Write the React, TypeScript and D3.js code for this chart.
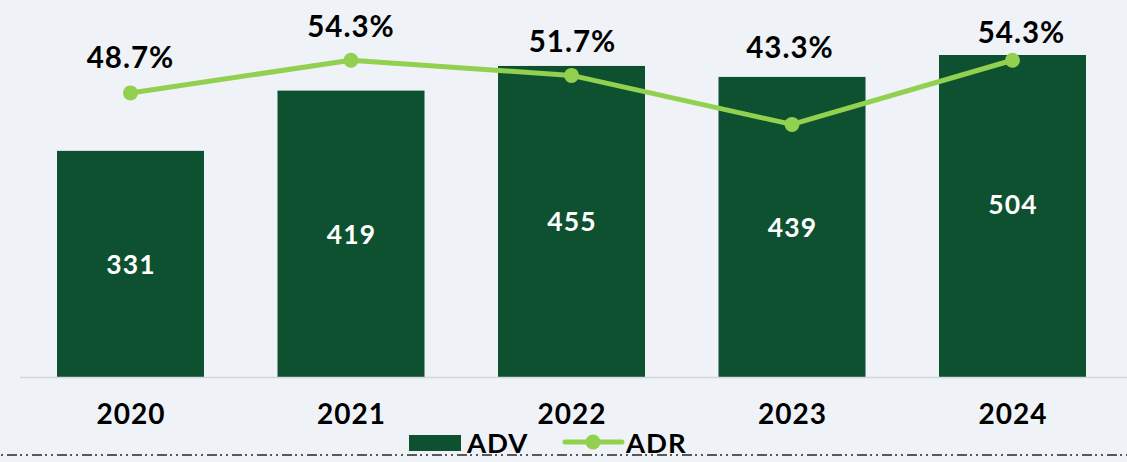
import React from "react";
import * as d3 from "d3";

const years = ["2020", "2021", "2022", "2023", "2024"];
const adv = [331, 419, 455, 439, 504];
const adr = [48.7, 54.3, 51.7, 43.3, 54.3];
const seriesNames = ["ADV", "ADR"];

// label placement offsets (px) relative to each ADR point
const pctDy = [-25, -23, -23, -66, -17];
const pctDx = [-1, -1, 0, -3, 8];

const W = 1127;
const H = 462;
const BG = "#eff2f7";
const BAR = "#0e5130";
const LINE = "#92d050";
const FONT = "Lato, 'Open Sans', sans-serif";

export default function App() {
  const x = d3
    .scaleBand<string>()
    .domain(years)
    .range([20.25, 1122.75])
    .paddingInner(1 / 3)
    .paddingOuter(1 / 6);
  const y = d3.scaleLinear().domain([0, 471]).range([377.5, 55]).clamp(true);
  const yRaw = d3.scaleLinear().domain([0, 471]).range([377.5, 55]);
  const y2 = d3.scaleLinear().domain([0, 60]).range([377, 27]);

  const cx = (d: string) => (x(d) as number) + x.bandwidth() / 2;
  const line = d3
    .line<number>()
    .x((_, i) => cx(years[i]))
    .y((v) => y2(v));

  return (
    <div style={{ position: "fixed", left: 0, top: 0, width: W, height: H }}>
      <svg width={W} height={H} style={{ display: "block", fontFamily: FONT }}>
        <rect x={0} y={0} width={W} height={H} fill={BG} />
        {years.map((yr, i) => (
          <rect
            key={yr}
            x={x(yr)}
            y={y(adv[i])}
            width={x.bandwidth()}
            height={y(0) - y(adv[i])}
            fill={BAR}
          />
        ))}
        <line x1={20} x2={W} y1={377.5} y2={377.5} stroke="#d3d6db" strokeWidth={1.5} />
        {years.map((yr, i) => (
          <text
            key={"v" + yr}
            x={cx(yr) + 0.5}
            y={(yRaw(0) + yRaw(adv[i])) / 2 + 9.5}
            textAnchor="middle"
            fill="#ffffff"
            fontWeight={700}
            fontSize={26.5}
            letterSpacing={1.2}
          >
            {adv[i]}
          </text>
        ))}
        <path d={line(adr) || ""} fill="none" stroke={LINE} strokeWidth={5} strokeLinejoin="round" />
        {years.map((yr, i) => (
          <circle key={"c" + yr} cx={cx(yr)} cy={y2(adr[i])} r={7.5} fill={LINE} />
        ))}
        {years.map((yr, i) => (
          <text
            key={"p" + yr}
            x={cx(yr) + pctDx[i] + 1}
            y={y2(adr[i]) + pctDy[i]}
            textAnchor="middle"
            fill="#000"
            fontWeight={700}
            fontSize={29.5}
            letterSpacing={1}
          >
            {adr[i].toFixed(1) + "%"}
          </text>
        ))}
        {years.map((yr) => (
          <text
            key={"x" + yr}
            x={cx(yr) + 0.5}
            y={424}
            textAnchor="middle"
            fill="#000"
            fontWeight={700}
            fontSize={28}
            letterSpacing={1}
          >
            {yr}
          </text>
        ))}
        <rect x={409} y={435} width={52} height={16} fill={BAR} />
        <text x={467} y={452.5} fill="#000" fontWeight={700} fontSize={27.5} letterSpacing={1}>
          {seriesNames[0]}
        </text>
        <line x1={565} x2={622} y1={442} y2={442} stroke={LINE} strokeWidth={5} strokeLinecap="round" />
        <circle cx={593} cy={442} r={7.5} fill={LINE} />
        <text x={626} y={452.5} fill="#000" fontWeight={700} fontSize={27.5} letterSpacing={1}>
          {seriesNames[1]}
        </text>
        <line
          x1={0}
          x2={W}
          y1={455}
          y2={455}
          stroke="#595959"
          strokeWidth={2}
          strokeDasharray="10 3 2 4 2 4"
          strokeDashoffset={18}
        />
      </svg>
    </div>
  );
}
